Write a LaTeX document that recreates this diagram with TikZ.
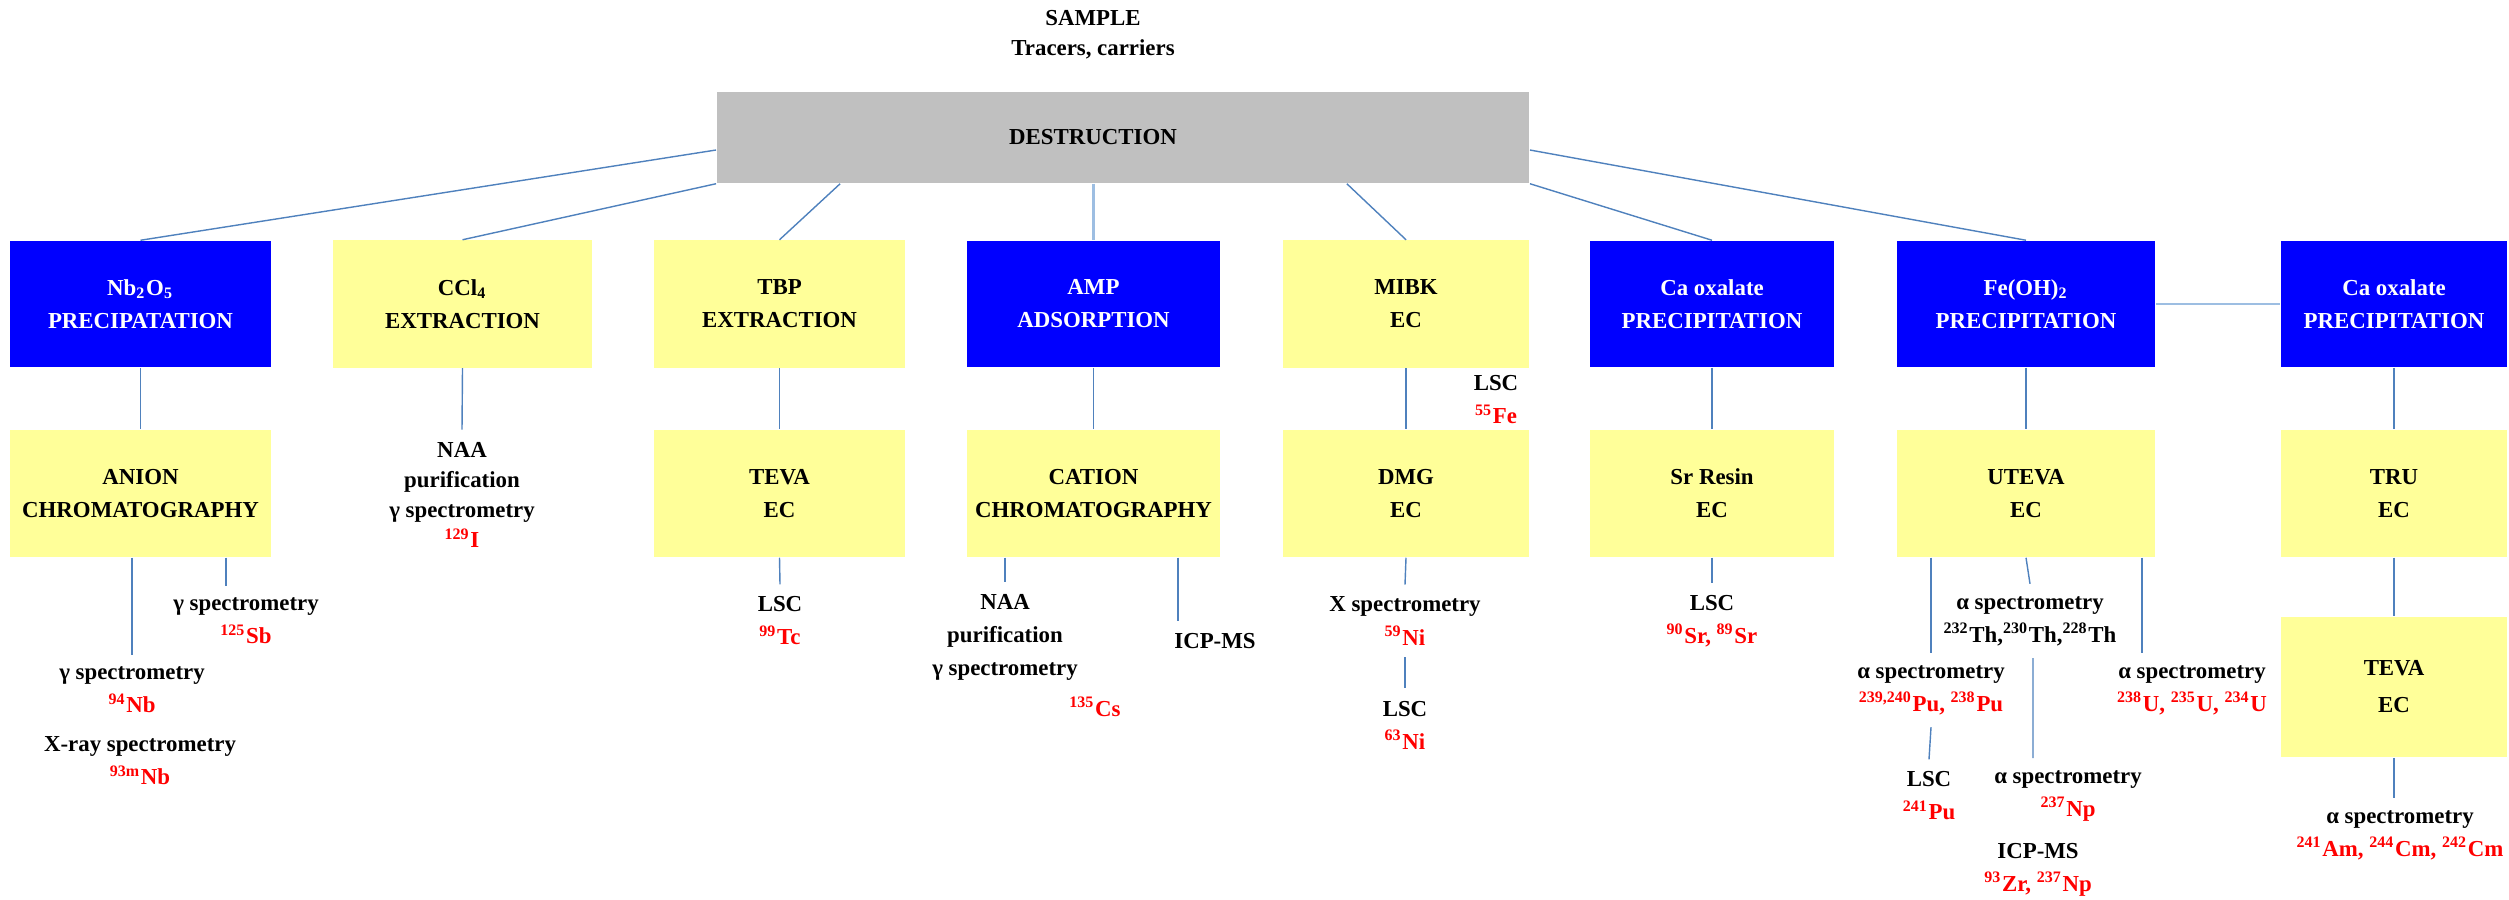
\documentclass[tikz,border=0pt]{standalone}
\usepackage{fontspec}
\setmainfont{Liberation Serif}
\usepackage{tikz}

\definecolor{boxblue}{RGB}{0,0,255}
\definecolor{boxyellow}{RGB}{255,255,153}
\definecolor{boxgray}{RGB}{192,192,192}
\definecolor{linkblue}{RGB}{79,129,189}
\definecolor{linklight}{RGB}{157,190,226}

\newcommand{\nucl}[2]{\textcolor{red}{\textsuperscript{#1}#2}}

\begin{document}
\begin{tikzpicture}[x=0.01cm,y=-0.01cm,
        font=\fontsize{6.5}{9.4}\selectfont\bfseries,
        blue box/.style={fill=boxblue,text=white,minimum height=1.26cm,align=center,inner sep=0pt},
        yellow box/.style={fill=boxyellow,minimum height=1.27cm,align=center,inner sep=0pt},
        result/.style={align=center},
        link/.style={draw=linkblue,line width=0.4pt},
        light link/.style={draw=linklight,line width=0.7pt}]
        \useasboundingbox (0,0) rectangle (2509,900);

        % sample and destruction
        \node[result,font=\fontsize{6.5}{8.6}\selectfont\bfseries] (sample) at (1093,35) {SAMPLE\\Tracers, carriers};
        \node[fill=boxgray,minimum width=8.12cm,minimum height=0.91cm,inner sep=0pt] (destr) at (1123,137.5) {DESTRUCTION\hspace*{0.6cm}};

        % first separation step
        \node[blue box,minimum width=2.61cm] (nb) at (140.5,304) {Nb\textsubscript{2}O\textsubscript{5}\\PRECIPATATION};
        \node[yellow box,minimum width=2.59cm] (ccl) at (462.5,304) {CCl\textsubscript{4}\\EXTRACTION};
        \node[yellow box,minimum width=2.51cm] (tbp) at (779.5,304) {TBP\\EXTRACTION};
        \node[blue box,minimum width=2.53cm] (amp) at (1093.5,304) {AMP\\ADSORPTION};
        \node[yellow box,minimum width=2.46cm] (mibk) at (1406,304) {MIBK\\EC};
        \node[blue box,minimum width=2.44cm] (caox) at (1712,304) {Ca oxalate\\PRECIPITATION};
        \node[blue box,minimum width=2.58cm] (feoh) at (2026,304) {Fe(OH)\textsubscript{2}\\PRECIPITATION};
        \node[blue box,minimum width=2.26cm] (caoxb) at (2394,304) {Ca oxalate\\PRECIPITATION};

        % second separation step
        \node[yellow box,minimum width=2.61cm] (anion) at (140.5,493.5) {ANION\\CHROMATOGRAPHY};
        \node[yellow box,minimum width=2.51cm] (teva) at (779.5,493.5) {TEVA\\EC};
        \node[yellow box,minimum width=2.53cm] (cation) at (1093.5,493.5) {CATION\\CHROMATOGRAPHY};
        \node[yellow box,minimum width=2.46cm] (dmg) at (1406,493.5) {DMG\\EC};
        \node[yellow box,minimum width=2.44cm] (srres) at (1712,493.5) {Sr Resin\\EC};
        \node[yellow box,minimum width=2.58cm] (uteva) at (2026,493.5) {UTEVA\\EC};
        \node[yellow box,minimum width=2.26cm] (tru) at (2394,493.5) {TRU\\EC};
        \node[yellow box,minimum width=2.26cm,minimum height=1.40cm,font=\fontsize{6.5}{10.5}\selectfont\bfseries] (tevab) at (2394,687) {TEVA\\EC};

        % measurements
        \node[result] (sbres) at (246,621) {γ spectrometry\\\nucl{125}{Sb}};
        \node[result] (nbres) at (132,690) {γ spectrometry\\\nucl{94}{Nb}};
        \node[result] (nbmres) at (140,761) {X-ray spectrometry\\\nucl{93m}{Nb}};
        \node[result,font=\fontsize{6.5}{8.6}\selectfont\bfseries] (iodres) at (462,495) {NAA\\purification\\γ spectrometry\\\nucl{129}{I}};
        \node[result] (tcres) at (780,621) {LSC\\\nucl{99}{Tc}};
        \node[result] (csres) at (1005,637) {NAA\\purification\\γ spectrometry};
        \node[result] (cs) at (1095,707) {\nucl{135}{Cs}};
        \node[result] (icpcs) at (1215,641) {ICP-MS};
        \node[result] (feres) at (1496,400) {LSC\\\nucl{55}{Fe}};
        \node[result] (niares) at (1405,621) {X spectrometry\\\nucl{59}{Ni}};
        \node[result] (nibres) at (1405,725) {LSC\\\nucl{63}{Ni}};
        \node[result] (srsr) at (1712,621) {LSC\\\textcolor{red}{\textsuperscript{90}Sr, \textsuperscript{89}Sr}};
        \node[result] (thres) at (2030,621) {α spectrometry\\\textsuperscript{232}Th,\textsuperscript{230}Th,\textsuperscript{228}Th};
        \node[result] (pures) at (1931,690) {α spectrometry\\\textcolor{red}{\textsuperscript{239,240}Pu, \textsuperscript{238}Pu}};
        \node[result] (ures) at (2192,690) {α spectrometry\\\textcolor{red}{\textsuperscript{238}U, \textsuperscript{235}U, \textsuperscript{234}U}};
        \node[result] (pubres) at (1929,796) {LSC\\\nucl{241}{Pu}};
        \node[result] (npres) at (2068,796) {α spectrometry\\\nucl{237}{Np}};
        \node[result] (icpnp) at (2038,870) {ICP-MS\\\textcolor{red}{\textsuperscript{93}Zr, \textsuperscript{237}Np}};
        \node[result] (amcm) at (2400,835) {α spectrometry\\\textcolor{red}{\textsuperscript{241}Am, \textsuperscript{244}Cm, \textsuperscript{242}Cm}};

        % from destruction
        \draw[link] ([yshift=-1.25mm]destr.west) -- (nb.north);
        \draw[link] (destr.south west) -- (ccl.north);
        \draw[link] ([xshift=1.24cm]destr.south west) -- (tbp.north);
        \draw[light link] (destr.south -| amp.north) -- (amp.north);
        \draw[link] ([xshift=-1.83cm]destr.south east) -- (mibk.north);
        \draw[link] (destr.south east) -- (caox.north);
        \draw[link] ([yshift=-1.25mm]destr.east) -- (feoh.north);
        \draw[light link] (feoh.east) -- (caoxb.west);

        % down the columns
        \draw[link] (nb.south) -- (anion.north);
        \draw[link] (ccl.south) -- (iodres.north);
        \draw[link] (tbp.south) -- (teva.north);
        \draw[link] (amp.south) -- (cation.north);
        \draw[link] (mibk.south) -- (dmg.north);
        \draw[link] (caox.south) -- (srres.north);
        \draw[link] (feoh.south) -- (uteva.north);
        \draw[link] (caoxb.south) -- (tru.north);
        \draw[link] (tru.south) -- (tevab.north);

        \draw[link] (anion.south -| nbres.north) -- (nbres.north);
        \draw[link] ([xshift=-2mm]anion.south -| sbres.north) -- ([xshift=-2mm]sbres.north);
        \draw[link] (teva.south) -- (tcres.north);
        \draw[link] (cation.south -| csres.north) -- (csres.north);
        \draw[link] ([xshift=-3.7mm]cation.south -| icpcs.north) -- ([xshift=-3.7mm]icpcs.north);
        \draw[link] (dmg.south) -- (niares.north);
        \draw[link] (niares.south) -- (nibres.north);
        \draw[link] (srres.south) -- (srsr.north);
        \draw[link] (uteva.south -| pures.north) -- (pures.north);
        \draw[link] (uteva.south) -- (thres.north);
        \draw[link] ([xshift=-5mm]uteva.south -| ures.north) -- ([xshift=-5mm]ures.north);
        \draw[link] (pures.south) -- (pubres.north);
        \draw[link] ([xshift=0.3mm]thres.south) -- ([xshift=-3.5mm]npres.north);
        \draw[link] (tevab.south) -- (tevab.south |- amcm.north);
    \end{tikzpicture}
\end{document}
